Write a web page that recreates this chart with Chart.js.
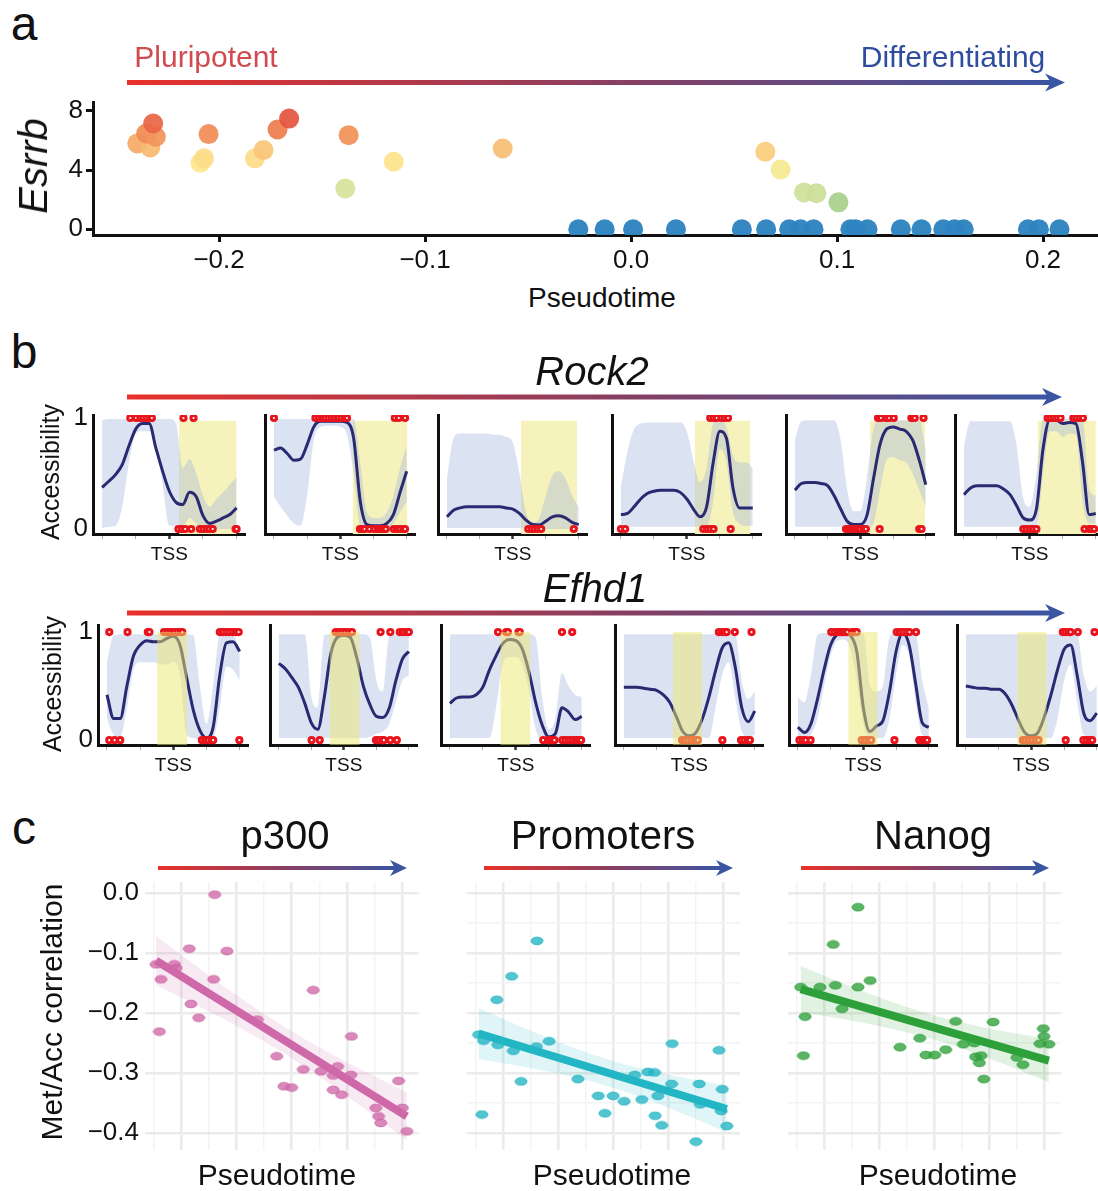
<!DOCTYPE html>
<html>
<head>
<meta charset="utf-8">
<script src="https://cdn.jsdelivr.net/npm/chart.js@4.4.1/dist/chart.umd.min.js"></script>
<style>
  body { margin: 0; width: 1098px; height: 1191px; position: relative; overflow: hidden; background: #fff;
         font-family: "Liberation Sans", Arial, sans-serif; color: #111; }
  canvas { position: absolute; }
  .lbl { position: absolute; white-space: nowrap; line-height: 1; transform: translate(-50%, -50%); }
  #arrows { position: absolute; left: 0; top: 0; }
</style>
</head>
<body>
<svg id="arrows" width="1098" height="1191"></svg>
<script>
// ---- panel a: Esrrb expression along pseudotime ----
const esrrbTime = [-0.2397, -0.2334, -0.2354, -0.2307, -0.2320, -0.2090, -0.2073, -0.2051, -0.1826, -0.1784,
                   -0.1716, -0.1660, -0.1371, -0.1387, -0.1152, -0.0623, 0.0652, 0.0726, 0.0840, 0.0900, 0.1007,
                   -0.0256, -0.0128, 0.0010, 0.0218, 0.0538, 0.0656, 0.0768, 0.0823, 0.0886, 0.1065,
                   0.1090, 0.1148, 0.1310, 0.1410, 0.1516, 0.1570, 0.1615, 0.1927, 0.1980, 0.2080];
const esrrbExpr = [5.80, 5.53, 6.47, 6.25, 7.15, 4.49, 4.79, 6.43, 4.79, 5.35,
                   6.74, 7.48, 6.36, 2.76, 4.56, 5.46, 5.24, 4.04, 2.49, 2.43, 1.82,
                   0, 0, 0, 0, 0, 0, 0, 0, 0, 0,
                   0, 0, 0, 0, 0, 0, 0, 0, 0, 0];
const esrrbTicksX = [-0.2, -0.1, 0, 0.1, 0.2];
const esrrbTicksY = [0, 2, 4, 6, 8];

// ---- panel b: accessibility around the TSS ----
const tssX = [-2, -1.8, -1.6, -1.4, -1.2, -1, -0.8, -0.6, -0.4, -0.2, 0, 0.2, 0.4, 0.6, 0.8, 1, 1.2, 1.4, 1.6, 1.8, 2];
const tssTicks = [-2, -1, 0, 1, 2];

const rock2Mean = [
  [0.375, 0.43, 0.49, 0.58, 0.75, 0.90, 0.95, 0.95, 0.73, 0.52, 0.34, 0.24, 0.22, 0.33, 0.29, 0.12, 0.05, 0.07, 0.10, 0.13, 0.19],
  [0.71, 0.73, 0.68, 0.62, 0.63, 0.76, 0.92, 0.97, 0.97, 0.97, 0.97, 0.96, 0.82, 0.25, 0.04, 0.03, 0.03, 0.05, 0.13, 0.33, 0.52],
  [0.11, 0.17, 0.19, 0.20, 0.20, 0.20, 0.20, 0.20, 0.20, 0.19, 0.18, 0.14, 0.08, 0.04, 0.036, 0.07, 0.11, 0.12, 0.10, 0.06, 0.04],
  [0.13, 0.14, 0.20, 0.27, 0.32, 0.34, 0.35, 0.35, 0.35, 0.33, 0.27, 0.18, 0.11, 0.20, 0.60, 0.88, 0.82, 0.37, 0.19, 0.19, 0.19],
  [0.35, 0.41, 0.42, 0.42, 0.41, 0.39, 0.30, 0.18, 0.07, 0.04, 0.04, 0.12, 0.45, 0.76, 0.90, 0.92, 0.90, 0.88, 0.80, 0.62, 0.40],
  [0.31, 0.37, 0.39, 0.39, 0.39, 0.39, 0.36, 0.31, 0.21, 0.10, 0.08, 0.18, 0.72, 0.98, 0.98, 0.95, 0.96, 0.95, 0.60, 0.13, 0.14]
];
const rock2Upper = [
  [0.98, 0.99, 0.99, 0.99, 0.99, 0.99, 0.99, 0.99, 0.99, 0.99, 0.99, 0.95, 0.55, 0.63, 0.50, 0.30, 0.20, 0.27, 0.33, 0.40, 0.47],
  [0.99, 0.99, 0.99, 0.99, 0.99, 0.99, 0.99, 0.99, 0.99, 0.99, 0.99, 0.99, 0.99, 0.60, 0.15, 0.10, 0.10, 0.15, 0.30, 0.55, 0.75],
  [0.45, 0.82, 0.86, 0.86, 0.86, 0.86, 0.86, 0.85, 0.85, 0.83, 0.78, 0.50, 0.15, 0.06, 0.10, 0.30, 0.48, 0.52, 0.45, 0.30, 0.20],
  [0.38, 0.70, 0.90, 0.95, 0.96, 0.96, 0.96, 0.96, 0.96, 0.96, 0.88, 0.62, 0.42, 0.55, 0.95, 0.99, 0.92, 0.66, 0.60, 0.60, 0.55],
  [0.80, 0.97, 0.98, 0.98, 0.98, 0.98, 0.98, 0.80, 0.35, 0.16, 0.16, 0.45, 0.90, 0.98, 0.98, 0.98, 0.98, 0.98, 0.98, 0.98, 0.70],
  [0.75, 0.97, 0.97, 0.97, 0.97, 0.97, 0.97, 0.97, 0.75, 0.28, 0.20, 0.50, 0.99, 0.99, 0.99, 0.99, 0.99, 0.99, 0.99, 0.35, 0.30]
];
const rock2Lower = [
  [0.01, 0.02, 0.03, 0.20, 0.60, 0.86, 0.88, 0.88, 0.80, 0.40, 0.03, 0.03, 0.03, 0.10, 0.05, 0.0, 0.0, 0.0, 0.0, 0.0, 0.0],
  [0.29, 0.20, 0.12, 0.05, 0.03, 0.30, 0.80, 0.92, 0.93, 0.93, 0.92, 0.85, 0.50, 0.03, 0.0, 0.0, 0.0, 0.0, 0.05, 0.15, 0.25],
  [0.01, 0.01, 0.01, 0.01, 0.01, 0.01, 0.01, 0.01, 0.01, 0.01, 0.01, 0.01, 0.0, 0.0, 0.0, 0.0, 0.0, 0.0, 0.0, 0.0, 0.0],
  [0.02, 0.02, 0.02, 0.02, 0.02, 0.02, 0.02, 0.02, 0.02, 0.02, 0.02, 0.02, 0.02, 0.02, 0.25, 0.72, 0.60, 0.15, 0.05, 0.03, 0.03],
  [0.02, 0.02, 0.02, 0.02, 0.02, 0.02, 0.02, 0.02, 0.02, 0.02, 0.02, 0.02, 0.05, 0.35, 0.62, 0.65, 0.62, 0.60, 0.50, 0.35, 0.20],
  [0.02, 0.02, 0.02, 0.02, 0.02, 0.02, 0.02, 0.02, 0.02, 0.02, 0.02, 0.02, 0.50, 0.88, 0.88, 0.83, 0.86, 0.85, 0.25, 0.05, 0.05]
];
const rock2Shade = [[0.29, 2.0], [0.37, 2.02], [0.25, 1.95], [0.24, 1.93], [0.29, 1.98], [0.24, 2.0]];
const rock2Open = [
  [-1.16, -0.99, -0.86, -0.77, -0.67, -0.57, -0.52, 0.42, 0.72],
  [-2.0, -0.75, -0.65, -0.55, -0.46, -0.36, -0.26, -0.17, -0.07, 0.03, 0.13, 0.2, 1.64, 1.76, 1.95],
  [],
  [0.71, 0.81, 0.91, 1.05, 1.15, 1.25],
  [0.54, 0.63, 0.78, 0.88, 1.02, 1.56, 1.61, 1.66, 1.93],
  [0.54, 0.63, 0.73, 0.83, 0.93, 1.32, 1.41, 1.51, 1.61]
];
const rock2Closed = [
  [0.27, 0.37, 0.47, 0.65, 0.91, 1.01, 1.11, 1.19, 1.29, 1.97, 2.0],
  [0.59, 0.66, 0.73, 0.88, 1.02, 1.12, 1.17, 1.22, 1.27, 1.32, 1.37, 1.61, 1.71, 1.8, 1.9, 1.95],
  [0.47, 0.57, 0.66, 0.76, 0.86, 1.85],
  [-2.0, -1.87, 0.5, 0.61, 0.71, 0.81, 1.33],
  [-0.44, -0.36, -0.29, -0.22, -0.15, -0.07, 0.0, 0.1, 0.17, 0.59, 1.8, 1.87],
  [-0.2, -0.1, 0.0, 0.1, 0.2, 1.66, 1.8, 1.85, 1.95]
];

const efhd1Mean = [
  [0.42, 0.20, 0.20, 0.50, 0.78, 0.88, 0.92, 0.91, 0.91, 0.94, 0.96, 0.88, 0.58, 0.28, 0.09, 0.02, 0.12, 0.60, 0.90, 0.91, 0.82],
  [0.71, 0.66, 0.58, 0.49, 0.34, 0.16, 0.10, 0.40, 0.80, 0.95, 0.97, 0.95, 0.76, 0.50, 0.33, 0.22, 0.21, 0.30, 0.55, 0.75, 0.82],
  [0.34, 0.39, 0.40, 0.40, 0.42, 0.49, 0.65, 0.78, 0.89, 0.93, 0.92, 0.84, 0.63, 0.35, 0.14, 0.03, 0.06, 0.30, 0.26, 0.19, 0.22],
  [0.49, 0.49, 0.49, 0.48, 0.47, 0.46, 0.42, 0.35, 0.22, 0.08, 0.04, 0.07, 0.20, 0.40, 0.64, 0.85, 0.90, 0.68, 0.30, 0.17, 0.27],
  [0.12, 0.07, 0.15, 0.38, 0.65, 0.88, 0.98, 1.00, 0.97, 0.82, 0.30, 0.08, 0.13, 0.18, 0.45, 0.82, 0.99, 0.88, 0.52, 0.16, 0.12],
  [0.50, 0.49, 0.48, 0.48, 0.47, 0.47, 0.43, 0.33, 0.19, 0.07, 0.04, 0.07, 0.22, 0.42, 0.65, 0.84, 0.88, 0.60, 0.25, 0.18, 0.25]
];
const efhd1Upper = [
  [0.72, 0.97, 0.98, 0.98, 0.98, 0.98, 0.98, 0.98, 0.98, 0.98, 0.98, 0.98, 0.98, 0.97, 0.50, 0.15, 0.50, 0.97, 0.98, 0.98, 0.80],
  [0.98, 0.98, 0.98, 0.98, 0.98, 0.40, 0.30, 0.97, 0.98, 0.98, 0.98, 0.98, 0.98, 0.98, 0.95, 0.55, 0.45, 0.97, 0.98, 0.98, 0.97],
  [0.98, 0.98, 0.98, 0.98, 0.98, 0.98, 0.98, 0.98, 0.98, 0.98, 0.98, 0.98, 0.98, 0.95, 0.40, 0.10, 0.20, 0.62, 0.50, 0.42, 0.40],
  [0.98, 0.98, 0.98, 0.98, 0.98, 0.98, 0.98, 0.98, 0.98, 0.98, 0.98, 0.98, 0.98, 0.98, 0.98, 0.98, 0.98, 0.98, 0.55, 0.38, 0.45],
  [0.40, 0.35, 0.60, 0.97, 0.99, 0.99, 0.99, 0.99, 0.99, 0.99, 0.99, 0.50, 0.45, 0.50, 0.95, 0.99, 0.99, 0.99, 0.97, 0.55, 0.30],
  [0.98, 0.98, 0.98, 0.98, 0.98, 0.98, 0.98, 0.98, 0.98, 0.98, 0.98, 0.98, 0.98, 0.98, 0.98, 0.98, 0.98, 0.98, 0.60, 0.45, 0.50]
];
const efhd1Lower = [
  [0.20, 0.05, 0.03, 0.30, 0.65, 0.72, 0.72, 0.72, 0.70, 0.70, 0.72, 0.60, 0.05, 0.02, 0.0, 0.0, 0.02, 0.30, 0.68, 0.65, 0.55],
  [0.02, 0.02, 0.02, 0.02, 0.02, 0.02, 0.02, 0.02, 0.02, 0.02, 0.02, 0.02, 0.02, 0.02, 0.03, 0.06, 0.08, 0.15, 0.35, 0.55, 0.60],
  [0.02, 0.02, 0.02, 0.02, 0.02, 0.02, 0.02, 0.30, 0.70, 0.77, 0.77, 0.70, 0.45, 0.10, 0.0, 0.0, 0.0, 0.02, 0.0, 0.0, 0.0],
  [0.02, 0.02, 0.02, 0.02, 0.02, 0.02, 0.02, 0.02, 0.02, 0.02, 0.02, 0.02, 0.02, 0.02, 0.30, 0.60, 0.72, 0.40, 0.08, 0.03, 0.05],
  [0.02, 0.0, 0.05, 0.20, 0.50, 0.78, 0.92, 0.93, 0.85, 0.55, 0.15, 0.02, 0.02, 0.02, 0.20, 0.60, 0.88, 0.78, 0.35, 0.05, 0.03],
  [0.02, 0.02, 0.02, 0.02, 0.02, 0.02, 0.02, 0.02, 0.02, 0.02, 0.02, 0.02, 0.02, 0.02, 0.20, 0.55, 0.70, 0.35, 0.05, 0.03, 0.03]
];
const efhd1Shade = [[-0.49, 0.42], [-0.44, 0.49], [-0.47, 0.44], [-0.5, 0.39], [-0.46, 0.44], [-0.43, 0.47]];
const efhd1Open = [
  [-1.93, -1.38, -0.77, -0.72, -0.28, -0.18, -0.08, 0.02, 0.12, 0.22, 0.27, 1.4, 1.5, 1.6, 1.69, 1.79, 1.89, 1.97],
  [-0.25, -0.15, -0.05, 0.05, 0.15, 0.25, 1.13, 1.43, 1.72, 1.82, 1.92, 2.0],
  [-0.54, -0.29, -0.24, 0.08, 0.12, 1.4, 1.71],
  [0.9, 1.0, 1.09, 1.14, 1.39, 1.9],
  [-0.98, -0.88, -0.78, -0.73, -0.68, -0.63, -0.59, -0.54, -0.49, -0.34, -0.29, -0.24, -0.2, 1.02, 1.12, 1.22, 1.32, 1.41, 1.61],
  [0.96, 1.05, 1.15, 1.2, 1.42, 1.93]
];
const efhd1Closed = [
  [-1.93, -1.77, -1.6, 0.86, 0.96, 1.05, 1.15, 1.2, 1.99],
  [-0.99, -0.74, 0.99, 1.08, 1.18, 1.23, 1.43, 1.63],
  [0.83, 0.98, 1.02, 1.07, 1.12, 1.17, 1.41, 1.51, 1.61, 1.71, 1.8, 1.85, 1.9, 1.98],
  [-0.22, -0.13, -0.03, 0.07, 0.17, 0.26, 1.01, 1.58, 1.68, 1.78, 1.85],
  [-1.95, -1.85, -1.76, -1.61, -0.05, 0.05, 0.15, 0.24, 0.95, 1.71, 1.8, 1.85, 1.9, 1.95],
  [-0.26, -0.17, -0.07, 0.03, 0.13, 0.22, 1.05, 1.59, 1.69, 1.79, 1.86]
];

// ---- panel c: met/acc correlation vs pseudotime ----
const p300Time = [-0.245, -0.236, -0.239, -0.212, -0.209, -0.185, -0.182, -0.168, -0.141, -0.139, -0.117, -0.062, -0.027, -0.014, 0.0,
                  0.021, 0.039, 0.053, 0.075, 0.075, 0.083, 0.090, 0.107, 0.108, 0.152, 0.157, 0.161, 0.193, 0.200, 0.208];
const p300Corr = [-0.119, -0.144, -0.231, -0.119, -0.125, -0.093, -0.185, -0.208, -0.144, -0.003, -0.097, -0.211, -0.272, -0.322, -0.324,
                  -0.294, -0.162, -0.297, -0.328, -0.304, -0.289, -0.336, -0.303, -0.239, -0.358, -0.372, -0.383, -0.313, -0.358, -0.397];
const promTime = [-0.244, -0.235, -0.238, -0.211, -0.209, -0.184, -0.181, -0.167, -0.139, -0.138, -0.116, -0.064, -0.027, -0.015, 0.0, 0.020,
                  0.039, 0.052, 0.063, 0.075, 0.081, 0.076, 0.088, 0.106, 0.107, 0.150, 0.156, 0.158, 0.192, 0.198, 0.196, 0.206];
const promCorr = [-0.236, -0.246, -0.369, -0.178, -0.253, -0.139, -0.263, -0.314, -0.256, -0.080, -0.247, -0.310, -0.338, -0.367, -0.338, -0.347,
                  -0.303, -0.344, -0.298, -0.299, -0.338, -0.371, -0.387, -0.318, -0.251, -0.414, -0.318, -0.352, -0.262, -0.327, -0.363, -0.388];
const nanogTime = [-0.242, -0.234, -0.237, -0.207, -0.183, -0.179, -0.167, -0.138, -0.138, -0.116, -0.062, -0.026, -0.015, 0.001, 0.021,
                   0.039, 0.053, 0.073, 0.075, 0.085, 0.082, 0.090, 0.107, 0.150, 0.161, 0.192, 0.198, 0.199, 0.208];
const nanogCorr = [-0.157, -0.206, -0.271, -0.157, -0.086, -0.154, -0.193, -0.024, -0.157, -0.146, -0.257, -0.242, -0.270, -0.270, -0.261,
                   -0.214, -0.252, -0.250, -0.273, -0.271, -0.283, -0.310, -0.215, -0.274, -0.286, -0.251, -0.226, -0.239, -0.252];
const corrTicksX = [-0.25, -0.2, -0.15, -0.1, -0.05, 0, 0.05, 0.1, 0.15, 0.2];
const corrTicksY = [-0.4, -0.35, -0.3, -0.25, -0.2, -0.15, -0.1, -0.05, 0];

Chart.defaults.font.family = '"Liberation Sans", Arial, sans-serif';
Chart.defaults.color = '#111';
Chart.defaults.animation = false;
Chart.defaults.plugins.legend.display = false;
Chart.defaults.plugins.tooltip.enabled = false;

// a canvas whose chart area lands exactly on box = [left, top, right, bottom]
const MT = 30, MR = 20;
function mount(box, ml, mb) {
  const w = box[2] - box[0] + ml + MR;
  const h = box[3] - box[1] + MT + mb;
  const c = document.createElement('canvas');
  c.width = w; c.height = h;
  c.style.left = (box[0] - ml) + 'px';
  c.style.top = (box[1] - MT) + 'px';
  c.style.width = w + 'px';
  c.style.height = h + 'px';
  document.body.appendChild(c);
  return c;
}
const basePadding = { top: MT, right: MR, left: 0, bottom: 0 };

function signed1(v) {
  const r = Math.round(v * 10) / 10;
  return (r < 0 ? '\u2212' : '') + Math.abs(r).toFixed(1);
}
const fixTicks = list => s => { s.ticks = list.map(v => ({ value: v })); };

// expression colour scale (green - yellow - orange - red)
const exprStops = [[1.8, [168, 208, 138]], [2.5, [207, 224, 154]], [2.8, [217, 227, 156]], [4.0, [243, 234, 144]],
                   [4.5, [253, 230, 140]], [4.8, [252, 221, 136]], [5.3, [250, 200, 123]], [5.8, [245, 170, 102]],
                   [6.3, [242, 148, 89]], [6.8, [238, 122, 79]], [7.5, [227, 83, 63]]];
function exprColor(v) {
  if (v <= 0) return 'rgba(46,132,192,0.97)';
  let i = 0;
  while (i < exprStops.length - 2 && v > exprStops[i + 1][0]) i++;
  const [v0, c0] = exprStops[i], [v1, c1] = exprStops[i + 1];
  const t = Math.max(0, Math.min(1, (v - v0) / (v1 - v0)));
  const c = c0.map((k, j) => Math.round(k + (c1[j] - k) * t));
  return `rgba(${c[0]},${c[1]},${c[2]},0.93)`;
}

// ---- panel a chart ----
new Chart(mount([93, 102, 1098, 235], 60, 45), {
  type: 'scatter',
  data: {
    datasets: [{
      data: esrrbTime.map((t, i) => ({ x: t, y: esrrbExpr[i] })),
      backgroundColor: ctx => exprColor(ctx.raw ? ctx.raw.y : 0),
      borderWidth: 0,
      pointRadius: 10
    }]
  },
  options: {
    responsive: false,
    layout: { padding: basePadding },
    scales: {
      x: {
        type: 'linear', min: -0.2612, max: 0.2267,
        afterBuildTicks: fixTicks(esrrbTicksX),
        afterFit: s => { s.height = 45; },
        ticks: { callback: v => signed1(v), font: { size: 26 }, color: '#111', padding: 3, maxRotation: 0 },
        grid: { drawOnChartArea: false, tickLength: 7, tickWidth: 3, tickColor: '#111' },
        border: { color: '#111', width: 3 }
      },
      y: {
        min: -0.39, max: 8.6,
        afterBuildTicks: fixTicks(esrrbTicksY),
        afterFit: s => { s.width = 60; },
        ticks: { callback: v => (v % 4 === 0 ? String(v) : ''), font: { size: 26 }, color: '#111', padding: 3 },
        grid: { drawOnChartArea: false, tickLength: 7, tickWidth: 3, tickColor: '#111' },
        border: { color: '#111', width: 3 }
      }
    }
  }
});

// ---- panel b charts ----
function accChart(box, showY, yMax, mean, up, lo, shade, open, closed, shadeOnTop) {
  const pts = arr => tssX.map((x, i) => ({ x, y: arr[i] }));
  const shadeTop = shadeOnTop ? 1.0 : 0.975;
  new Chart(mount(box, showY ? 40 : 4, 34), {
    type: 'line',
    data: {
      datasets: [
        { type: 'scatter', data: open.map(x => ({ x, y: 1 })).concat(closed.map(x => ({ x, y: 0 }))),
          pointRadius: 2.6, pointBackgroundColor: '#fff', pointBorderColor: '#e8141c', pointBorderWidth: 3, order: 2 },
        { data: pts(mean), borderColor: '#2a2a72', borderWidth: 3, pointRadius: 0, cubicInterpolationMode: 'monotone', order: 3 },
        { data: pts(lo), borderWidth: 0, pointRadius: 0, cubicInterpolationMode: 'monotone', fill: false, order: 4 },
        { data: pts(up), borderWidth: 0, pointRadius: 0, cubicInterpolationMode: 'monotone', fill: '-1',
          backgroundColor: 'rgba(160,182,220,0.38)', order: 4 },
        { data: [{ x: shade[0], y: shadeTop }, { x: shade[1], y: shadeTop }], borderWidth: 0, pointRadius: 0, fill: 'start',
          backgroundColor: shadeOnTop ? 'rgba(238,232,110,0.5)' : '#f5f2bb', order: shadeOnTop ? 0 : 6 }
      ]
    },
    options: {
      responsive: false,
      layout: { padding: basePadding },
      scales: {
        x: {
          type: 'linear', min: -2.27, max: 2.25,
          afterBuildTicks: fixTicks(tssTicks),
          afterFit: s => { s.height = 34; },
          ticks: { callback: v => (v === 0 ? 'TSS' : ''), font: { size: 19 }, color: '#111', padding: 4, maxRotation: 0, autoSkip: false },
          grid: { drawOnChartArea: false, tickLength: 5,
                  tickWidth: c => (c.tick && c.tick.value === 0 ? 2.5 : 1),
                  tickColor: c => (c.tick && c.tick.value === 0 ? '#333' : '#aaa') },
          border: { color: '#111', width: 3 }
        },
        y: {
          min: -0.045, max: yMax,
          afterBuildTicks: fixTicks([0, 1]),
          afterFit: s => { s.width = showY ? 40 : 4; },
          ticks: { display: showY, callback: v => String(v), font: { size: 26 }, color: '#111', padding: 5 },
          grid: { drawOnChartArea: false, drawTicks: false },
          border: { color: '#111', width: 3 }
        }
      }
    }
  });
}

const rock2Boxes = [[93, 415, 245, 534], [262, 415, 415, 534], [435, 415, 587, 534],
                    [609, 415, 761, 534], [783, 415, 934, 534], [952, 415, 1104, 534]];
const efhd1Boxes = [[98, 625, 248, 745], [267, 625, 417, 745], [438, 625, 590, 745],
                    [612, 625, 763, 745], [786, 625, 937, 745], [954, 625, 1105, 745]];
rock2Boxes.forEach((b, i) => accChart(b, i === 0, 1.027, rock2Mean[i], rock2Upper[i], rock2Lower[i],
                                       rock2Shade[i], rock2Open[i], rock2Closed[i], false));
efhd1Boxes.forEach((b, i) => accChart(b, i === 0, 1.065, efhd1Mean[i], efhd1Upper[i], efhd1Lower[i],
                                       efhd1Shade[i], efhd1Open[i], efhd1Closed[i], true));

// ---- panel c charts ----
function ellipseDot(fill, stroke) {
  const c = document.createElement('canvas');
  c.width = 14; c.height = 10;
  const g = c.getContext('2d');
  g.fillStyle = fill; g.strokeStyle = stroke; g.lineWidth = 1;
  g.beginPath(); g.ellipse(7, 5, 6, 3.8, 0, 0, Math.PI * 2); g.fill(); g.stroke();
  return c;
}

// least squares fit with a 95% confidence band
function linFit(xs, ys) {
  const n = xs.length;
  const mx = xs.reduce((a, b) => a + b, 0) / n;
  const my = ys.reduce((a, b) => a + b, 0) / n;
  let sxx = 0, sxy = 0;
  xs.forEach((x, i) => { sxx += (x - mx) * (x - mx); sxy += (x - mx) * (ys[i] - my); });
  const b = sxy / sxx, a = my - b * mx;
  let sse = 0;
  xs.forEach((x, i) => { const r = ys[i] - (a + b * x); sse += r * r; });
  const s = Math.sqrt(sse / (n - 2)), t = 2.05;
  const x0 = Math.min(...xs), x1 = Math.max(...xs);
  const line = [{ x: x0, y: a + b * x0 }, { x: x1, y: a + b * x1 }];
  const up = [], lo = [];
  for (let k = 0; k <= 24; k++) {
    const x = x0 + (x1 - x0) * k / 24;
    const se = s * Math.sqrt(1 / n + (x - mx) * (x - mx) / sxx);
    up.push({ x, y: a + b * x + t * se });
    lo.push({ x, y: a + b * x - t * se });
  }
  return { line, up, lo };
}

const isMajor = v => Math.abs(Math.round(v * 10) - v * 10) < 1e-6;

function corrChart(box, xs, ys, rgb, showY) {
  const f = linFit(xs, ys);
  const ml = showY ? 95 : 2;
  new Chart(mount(box, ml, 30), {
    type: 'scatter',
    data: {
      datasets: [
        { type: 'line', data: f.line, borderColor: `rgb(${rgb})`, borderWidth: 8, pointRadius: 0, order: 1 },
        { data: xs.map((x, i) => ({ x, y: ys[i] })), pointStyle: ellipseDot(`rgba(${rgb},0.78)`, `rgba(${rgb},0.9)`), order: 2 },
        { type: 'line', data: f.lo, borderWidth: 0, pointRadius: 0, fill: false, order: 3 },
        { type: 'line', data: f.up, borderWidth: 0, pointRadius: 0, fill: '-1', backgroundColor: `rgba(${rgb},0.14)`, order: 3 }
      ]
    },
    options: {
      responsive: false,
      layout: { padding: basePadding },
      scales: {
        x: {
          type: 'linear', min: -0.265, max: 0.23,
          afterBuildTicks: fixTicks(corrTicksX),
          afterFit: s => { s.height = 30; },
          ticks: { display: false },
          grid: { drawTicks: false, color: c => (c.tick && isMajor(c.tick.value) ? '#ebebeb' : '#f3f3f3'),
                  lineWidth: c => (c.tick && isMajor(c.tick.value) ? 2.6 : 1.4) },
          border: { display: false }
        },
        y: {
          min: -0.428, max: 0.018,
          afterBuildTicks: fixTicks(corrTicksY),
          afterFit: s => { s.width = ml; },
          ticks: { display: showY, callback: v => (isMajor(v) ? signed1(v) : ''), font: { size: 26 }, color: '#111', padding: 6 },
          grid: { drawTicks: false, color: c => (c.tick && isMajor(c.tick.value) ? '#ebebeb' : '#f3f3f3'),
                  lineWidth: c => (c.tick && isMajor(c.tick.value) ? 2.6 : 1.4) },
          border: { display: false }
        }
      }
    }
  });
}

corrChart([145, 882, 419, 1150], p300Time, p300Corr, '207,104,168', true);
corrChart([464, 882, 740, 1150], promTime, promCorr, '34,181,196', false);
corrChart([785, 882, 1061, 1150], nanogTime, nanogCorr, '46,160,58', false);

// ---- text ----
function label(text, x, y, size, extra) {
  const d = document.createElement('div');
  d.className = 'lbl';
  d.textContent = text;
  d.style.left = x + 'px';
  d.style.top = y + 'px';
  d.style.fontSize = size + 'px';
  Object.assign(d.style, extra || {});
  document.body.appendChild(d);
  return d;
}
const rot = { transform: 'translate(-50%, -50%) rotate(-90deg)' };
label('a', 24, 24, 48);
label('b', 24, 352, 48);
label('c', 24, 828, 48);
label('Pluripotent', 206, 57, 30, { color: '#d04a4f' });
label('Differentiating', 953, 57, 30, { color: '#2f4d9e' });
label('Esrrb', 33, 166, 40, Object.assign({ fontStyle: 'italic' }, rot));
label('Pseudotime', 602, 298, 28);
label('Rock2', 592, 371, 40, { fontStyle: 'italic' });
label('Accessibility', 50, 472, 25, rot);
label('Efhd1', 595, 588, 40, { fontStyle: 'italic' });
label('Accessibility', 52, 684, 25, rot);
label('p300', 285, 835, 40);
label('Promoters', 603, 835, 40);
label('Nanog', 933, 835, 40);
label('Met/Acc correlation', 52, 1012, 30, rot);
label('Pseudotime', 277, 1175, 30);
label('Pseudotime', 612, 1175, 30);
label('Pseudotime', 938, 1175, 30);

// ---- gradient arrows ----
function arrow(x1, x2, y, th, hl, hw) {
  const back = x2 - hl * 0.7;
  return `<rect x="${x1}" y="${y - th / 2}" width="${back - x1 + 1}" height="${th}" fill="url(#grad)"/>` +
         `<polygon points="${x2},${y} ${x2 - hl},${y - hw} ${back},${y} ${x2 - hl},${y + hw}" fill="#3a55a2"/>`;
}
document.getElementById('arrows').innerHTML =
  '<defs><linearGradient id="grad" x1="0" x2="1" y1="0" y2="0">' +
  '<stop offset="0" stop-color="#e8312a"/><stop offset="0.5" stop-color="#8e3e5e"/><stop offset="1" stop-color="#3a55a2"/>' +
  '</linearGradient></defs>' +
  arrow(127, 1065, 82.5, 5, 20, 9) +
  arrow(127, 1062, 397, 5, 20, 9) +
  arrow(127, 1065, 613, 5, 20, 9) +
  arrow(158, 407, 868, 4, 17, 8) +
  arrow(484, 733, 868, 4, 17, 8) +
  arrow(801, 1049, 868, 4, 17, 8);
</script>
</body>
</html>
